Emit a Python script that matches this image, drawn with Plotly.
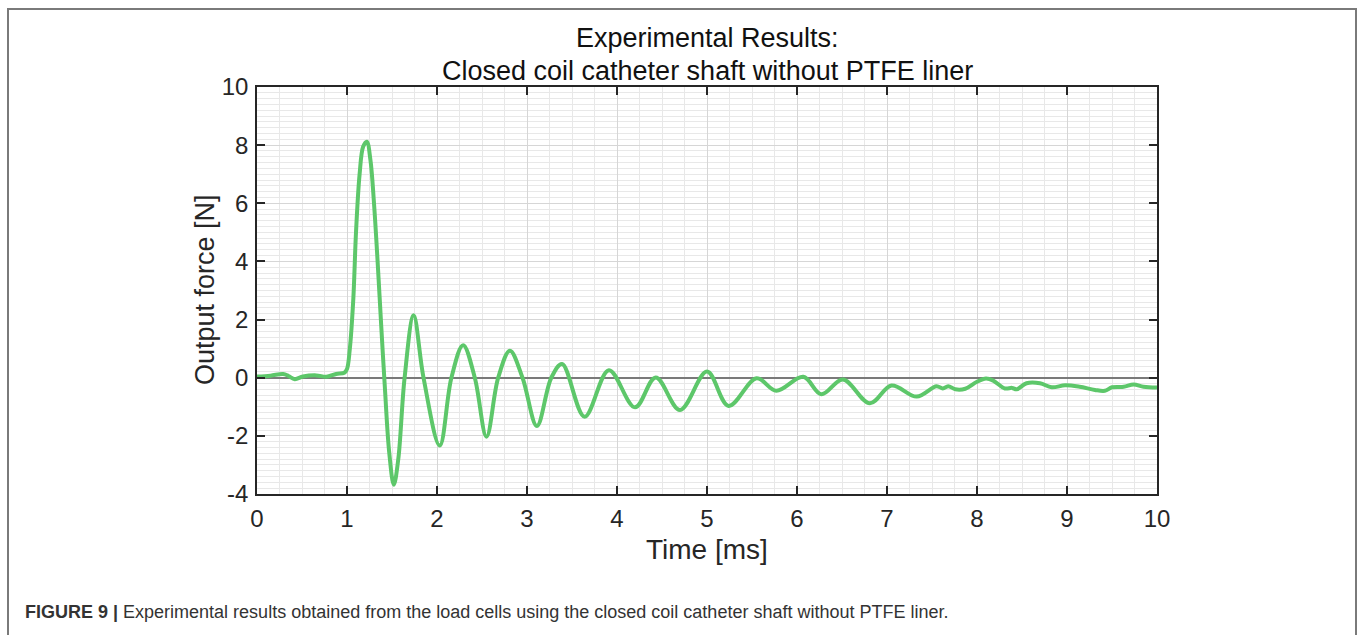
import plotly.graph_objects as go

time_ms = [0, 0.15, 0.29, 0.35, 0.42, 0.51, 0.66, 0.77, 0.88, 0.97, 1.0, 1.03, 1.07, 1.1, 1.14,
           1.18, 1.22, 1.26, 1.30, 1.34, 1.38, 1.42, 1.47, 1.52, 1.57, 1.64, 1.74, 1.85, 2.03,
           2.16, 2.29, 2.42, 2.55, 2.68, 2.81, 2.95, 3.11, 3.27, 3.39, 3.64, 3.91, 4.2, 4.43,
           4.70, 5.0, 5.24, 5.55, 5.77, 6.07, 6.27, 6.51, 6.81, 7.05, 7.33, 7.55, 7.62, 7.68,
           7.76, 7.87, 8.0, 8.1, 8.18, 8.31, 8.39, 8.44, 8.55, 8.7, 8.83, 8.98, 9.14, 9.31,
           9.42, 9.5, 9.63, 9.74, 9.85, 10.0]
force_N = [0.04, 0.07, 0.13, 0.06, -0.05, 0.04, 0.08, 0.03, 0.13, 0.17, 0.3, 0.95, 2.7, 5.0, 7.0,
           7.95, 8.12, 7.5, 6.0, 4.0, 1.8, -0.3, -2.6, -3.68, -2.8, 0.0, 2.15, 0.0, -2.33,
           0.0, 1.12, 0.0, -2.03, 0.0, 0.93, 0.0, -1.66, 0.0, 0.47, -1.34, 0.26, -1.02, 0.01,
           -1.11, 0.21, -0.97, -0.02, -0.45, 0.03, -0.57, -0.06, -0.88, -0.27, -0.65, -0.29, -0.37, -0.29,
           -0.40, -0.38, -0.14, -0.03, -0.10, -0.37, -0.35, -0.40, -0.19, -0.19, -0.33, -0.26, -0.31, -0.42,
           -0.45, -0.33, -0.31, -0.23, -0.31, -0.34]

x_ticks = list(range(0, 11))
x_tick_labels = [str(v) for v in x_ticks]
y_ticks = [-4, -2, 0, 2, 4, 6, 8, 10]
y_tick_labels = ["-4", "-2", "0", "2", "4", "6", "8", "10"]

title_line1 = "Experimental Results:"
title_line2 = "Closed coil catheter shaft without PTFE liner"
x_title = "Time [ms]"
y_title = "Output force [N]"
caption_bold = "FIGURE 9 |"
caption_text = " Experimental results obtained from the load cells using the closed coil catheter shaft without PTFE liner."

W, H = 1358, 635
L, R, T, B = 257, 1157, 87, 494  # plot area in pixels


def px(xp):
    return (xp - L) / (R - L)


def py(yp):
    return (B - yp) / (B - T)


FONT = "Liberation Sans, Arial, sans-serif"
AX = "#262626"

fig = go.Figure()
fig.add_trace(go.Scatter(
    x=time_ms, y=force_N, mode="lines",
    line=dict(color="#5DC76A", width=4, shape="spline", smoothing=1.0),
    hoverinfo="skip", showlegend=False,
))

common = dict(
    showline=True, linecolor=AX, linewidth=1.5, mirror="ticks",
    ticks="inside", ticklen=8, tickwidth=1.5, tickcolor=AX,
    showgrid=True, gridcolor="#d6d6d6", gridwidth=1,
    tickfont=dict(family=FONT, size=24, color="#262626"),
)

fig.update_xaxes(range=[0, 10], tickvals=x_ticks, ticktext=x_tick_labels, zeroline=False,
                 minor=dict(dtick=0.25, showgrid=True, gridcolor="#e8e8e8", gridwidth=1),
                 ticklabelstandoff=2, **common)
fig.update_yaxes(range=[-4, 10], tickvals=y_ticks, ticktext=y_tick_labels, zeroline=True,
                 zerolinecolor="#7a7a7a", zerolinewidth=2,
                 minor=dict(dtick=0.2, showgrid=True, gridcolor="#e8e8e8", gridwidth=1),
                 ticklabelstandoff=2, **common)

annotations = [
    dict(text=title_line1, x=0.5, y=py(38), xref="paper", yref="paper", showarrow=False,
         xanchor="center", yanchor="middle", font=dict(family=FONT, size=27, color="#111")),
    dict(text=title_line2, x=0.5, y=py(71), xref="paper", yref="paper", showarrow=False,
         xanchor="center", yanchor="middle", font=dict(family=FONT, size=27, color="#111")),
    dict(text=x_title, x=0.5, y=py(549), xref="paper", yref="paper", showarrow=False,
         xanchor="center", yanchor="middle", font=dict(family=FONT, size=28, color="#262626")),
    dict(text=y_title, x=px(205), y=py(290), xref="paper", yref="paper", showarrow=False,
         textangle=-90, xanchor="center", yanchor="middle",
         font=dict(family=FONT, size=27, color="#262626")),
    dict(text="<b>" + caption_bold + "</b>" + caption_text, x=px(23), y=py(612),
         xref="paper", yref="paper", showarrow=False, xanchor="left", yanchor="middle",
         font=dict(family=FONT, size=18, color="#333")),
]

shapes = [
    dict(type="rect", xref="paper", yref="paper", x0=px(8), x1=px(1356), y0=py(660), y1=py(9),
         line=dict(color="#7a7a7a", width=2), fillcolor="rgba(0,0,0,0)", layer="below"),
]

fig.update_layout(
    width=W, height=H,
    margin=dict(l=L, r=W - R, t=T, b=H - B),
    paper_bgcolor="white", plot_bgcolor="white",
    annotations=annotations, shapes=shapes,
    font=dict(family=FONT),
)

fig.write_html("out.html")
